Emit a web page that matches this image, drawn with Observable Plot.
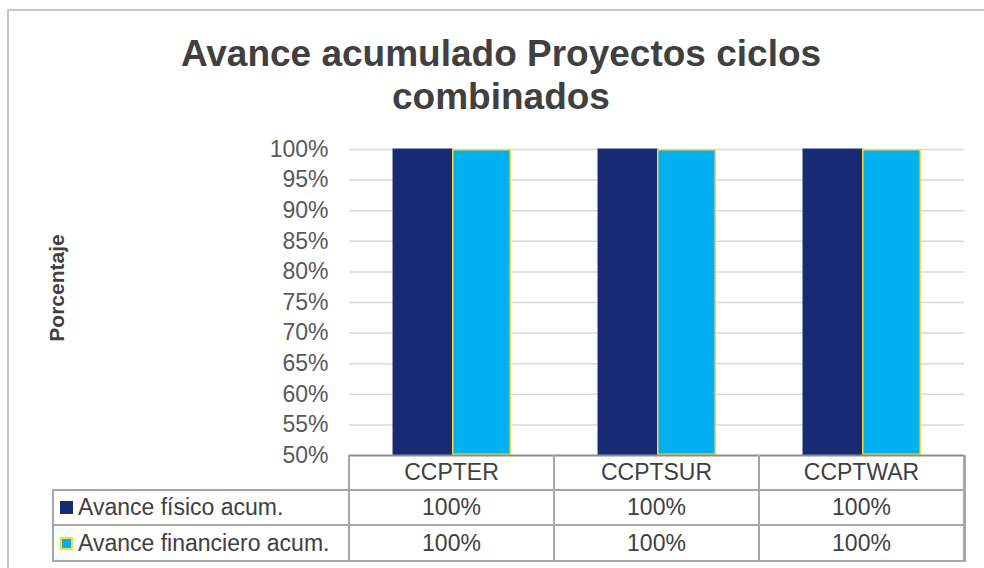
<!DOCTYPE html>
<html>
<head>
<meta charset="utf-8">
<script src="https://cdn.jsdelivr.net/npm/d3@7"></script>
<script src="https://cdn.jsdelivr.net/npm/@observablehq/plot@0.6"></script>
<style>
  html, body { margin: 0; padding: 0; background: #fff; font-family: "Liberation Sans", Arial, sans-serif; overflow: hidden; }
  #page { position: relative; width: 984px; height: 568px; overflow: hidden; background: #fff; }
  #frame { position: absolute; left: 7px; top: 9px; width: 975px; height: 559px;
           border-left: 2px solid #c6c6c6; border-top: 2px solid #c6c6c6; }
  #title { position: absolute; left: 18px; width: 966px; top: 32px; text-align: center;
           font-weight: bold; font-size: 37px; line-height: 43px; color: #404040; }
  #ylabel { position: absolute; left: 57px; top: 288px; transform: translate(-50%, -50%) rotate(-90deg);
            font-weight: bold; font-size: 21px; color: #404040; white-space: nowrap; }
  #chart { position: absolute; left: 0; top: 0; }
  .hl, .vl { position: absolute; background: #a6a6a6; }
  .cell { position: absolute; display: flex; align-items: center; justify-content: center;
          font-size: 23px; color: #404040; white-space: nowrap; }
  .lcell { position: absolute; display: flex; align-items: center; font-size: 23px; color: #404040; white-space: nowrap; }
  .sw { display: inline-block; width: 13px; height: 13px; box-sizing: border-box; margin-left: 7px; margin-right: 5px; }
</style>
</head>
<body>
<div id="page">
  <div id="frame"></div>
  <div id="chart"></div>
  <div id="title">Avance acumulado Proyectos ciclos<br>combinados</div>
  <div id="ylabel">Porcentaje</div>
  <div id="table"></div>
</div>
<script>
// ---- data ----
const categories = ["CCPTER", "CCPTSUR", "CCPTWAR"];
const series = ["Avance físico acum.", "Avance financiero acum."];
const fisico = [100, 100, 100];
const financiero = [100, 100, 100];
const yTicks = [50, 55, 60, 65, 70, 75, 80, 85, 90, 95, 100];

const yMin = yTicks[0], yMax = yTicks[yTicks.length - 1];
const fillColors = ["#172b74", "#00b0f0"];
const strokeColors = ["#1f3279", "#ffd933"];

const rows = categories.flatMap((c, i) => [
  {category: c, series: series[0], value: fisico[i]},
  {category: c, series: series[1], value: financiero[i]}
]);

const W = 984, H = 568;
const mLeft = 348, mRight = 19, mTop = 149, mBottom = 113;

const plot = Plot.plot({
  width: W,
  height: H,
  marginLeft: mLeft,
  marginRight: mRight,
  marginTop: mTop,
  marginBottom: mBottom,
  style: {background: "transparent", fontFamily: "'Liberation Sans', Arial, sans-serif", color: "#595959"},
  fx: {domain: categories, padding: 0, axis: null, label: null},
  x: {domain: series, paddingInner: 0, paddingOuter: 0.728, axis: null},
  y: {domain: [yMin, yMax], axis: null},
  marks: [
    Plot.gridY(yTicks.filter(d => d > yMin), {stroke: "#d9d9d9", strokeOpacity: 1, strokeWidth: 1.5}),
    Plot.barY(rows.filter(d => d.series === series[0]), {
      fx: "category", x: "series", y1: () => yMin, y2: "value",
      fill: fillColors[0], stroke: strokeColors[0], strokeWidth: 1, inset: 0
    }),
    Plot.barY(rows.filter(d => d.series === series[1]), {
      fx: "category", x: "series", y1: () => yMin, y2: "value",
      fill: fillColors[1], stroke: strokeColors[1], strokeWidth: 1.5, inset: 0.75
    }),
    Plot.ruleY([yMin], {stroke: "#8c8c8c", strokeWidth: 2}),
    Plot.axisY(yTicks, {
      tickSize: 0, tickPadding: 21, tickFormat: d => d + "%",
      fontSize: 23, fill: "#595959", label: null
    })
  ]
});
document.getElementById("chart").appendChild(plot);

// ---- data table (columns aligned on the fx scale) ----
let colX, colW;
try {
  const fx = plot.scale("fx");
  colX = categories.map(c => fx.apply(c));
  colW = fx.bandwidth;
  if (!isFinite(colX[0]) || !isFinite(colW)) throw 0;
} catch (e) {
  colW = (W - mLeft - mRight) / categories.length;
  colX = categories.map((c, i) => mLeft + i * colW);
}
const tableLeft = 53;
const tTop = H - mBottom;           // axis line
const rowH = [35, 35, 36];
const rowY = [tTop, tTop + rowH[0], tTop + rowH[0] + rowH[1], tTop + rowH[0] + rowH[1] + rowH[2]];
const tableRight = colX[colX.length - 1] + colW;
const lw = 2;
const tbl = document.getElementById("table");
function add(cls, x, y, w, h, html) {
  const d = document.createElement("div");
  d.className = cls;
  d.style.left = x + "px"; d.style.top = y + "px";
  d.style.width = w + "px"; d.style.height = h + "px";
  if (html !== undefined) d.innerHTML = html;
  tbl.appendChild(d);
  return d;
}
// horizontal lines
for (let r = 1; r < rowY.length; r++) add("hl", tableLeft - lw / 2, rowY[r] - lw / 2, tableRight - tableLeft + lw, lw);
// vertical lines
add("vl", tableLeft - lw / 2, rowY[1] - lw / 2, lw, rowY[3] - rowY[1] + lw);
colX.forEach(x => add("vl", x - lw / 2, rowY[0], lw, rowY[3] - rowY[0] + lw / 2));
add("vl", tableRight - lw / 2, rowY[0], lw + 0.5, rowY[3] - rowY[0] + lw / 2);
// header
categories.forEach((c, i) => add("cell", colX[i], rowY[0], colW, rowH[0], c));
// series rows
const values = [fisico, financiero];
series.forEach((s, r) => {
  const sw = r === 0
    ? `<span class="sw" style="background:${fillColors[0]}"></span>`
    : `<span class="sw" style="background:${fillColors[1]};border:2px solid ${strokeColors[1]}"></span>`;
  add("lcell", tableLeft, rowY[r + 1], colX[0] - tableLeft, rowH[r + 1], sw + s);
  values[r].forEach((v, i) => add("cell", colX[i], rowY[r + 1], colW, rowH[r + 1], v + "%"));
});
</script>
</body>
</html>
